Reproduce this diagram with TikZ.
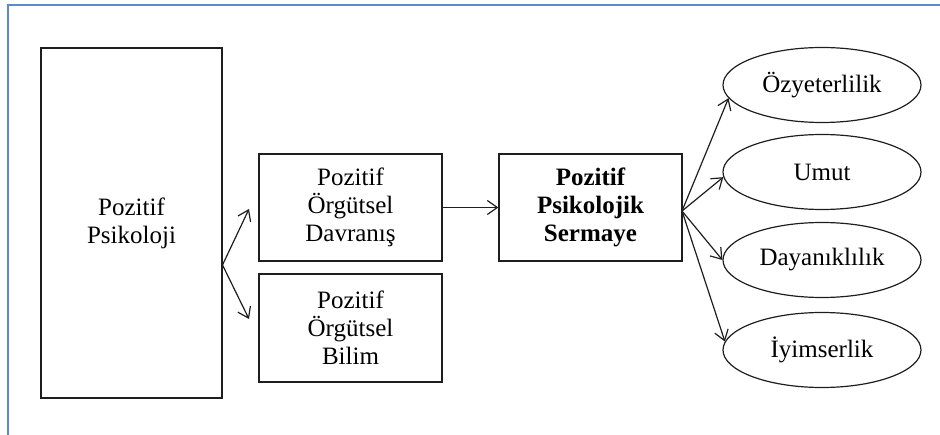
\documentclass[tikz,border=0pt]{standalone}
\usepackage{fontspec}
\setmainfont{Liberation Serif}
\usetikzlibrary{shapes.geometric,arrows.meta}
\definecolor{framecol}{RGB}{91,138,206}
\definecolor{inkcol}{RGB}{30,30,30}
\begin{document}
\begin{tikzpicture}[x=1pt,y=-1pt,
  boxnode/.style={draw=inkcol,line width=1.3pt,rectangle,inner sep=0pt,align=center,
    font=\fontsize{25}{28}\selectfont},
  ovalnode/.style={draw=inkcol,line width=1.2pt,ellipse,inner sep=0pt,
    minimum width=198pt,minimum height=75pt,font=\fontsize{25}{28}\selectfont},
  link/.style={draw=inkcol,line width=1.2pt,-{Straight Barb[length=10pt,width=14pt]}}]
  \useasboundingbox (0,0) rectangle (940,435);
  % surrounding frame, open on the right and at the bottom
  \draw[framecol,line width=1.5pt] (940,5) -- (8,5) -- (8,435);

  % boxes
  \node[boxnode,minimum width=181pt,minimum height=350pt] (psy) at (131.5,223) {Pozitif\\Psikoloji};
  \node[boxnode,minimum width=183pt,minimum height=107pt] (pod) at (350.5,207.5) {Pozitif\\Örgütsel\\Davranış};
  \node[boxnode,minimum width=183pt,minimum height=108pt] (pob) at (350.5,328) {Pozitif\\Örgütsel\\Bilim};
  \node[boxnode,minimum width=183pt,minimum height=107pt,font=\fontsize{25}{28}\selectfont\bfseries] (pps) at (590.5,207.5) {Pozitif\\Psikolojik\\Sermaye};

  % outcome ellipses
  \node[ovalnode] (e1) at (822,85) {Özyeterlilik};
  \node[ovalnode] (e2) at (822,172) {Umut};
  \node[ovalnode] (e3) at (822,260) {Dayanıklılık};
  \node[ovalnode] (e4) at (822,350) {İyimserlik};

  % branching connectors
  \coordinate (fork) at (222.5,265);
  \coordinate (upTip) at (249,209);
  \coordinate (downTip) at (249,319);
  \draw[link] (fork) -- (upTip);
  \draw[link] (fork) -- (downTip);

  \draw[link] (pod.east) -- (pps.west);

  \coordinate (fan) at (682,211);
  \draw[link] (fan) -- (e1.188);
  \draw[link] (fan) -- (e2.183);
  \draw[link] (fan) -- (e3.west);
  \draw[link] (fan) -- (e4.175);
\end{tikzpicture}
\end{document}
